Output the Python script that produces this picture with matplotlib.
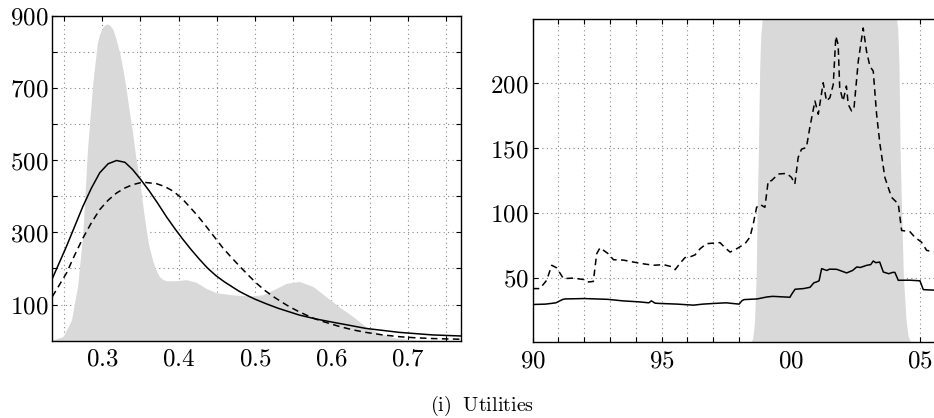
import numpy as np
import matplotlib
matplotlib.use("Agg")
import matplotlib.pyplot as plt

plt.rcParams['mathtext.fontset'] = 'cm'
plt.rcParams['font.family'] = ['DejaVu Serif']

# ---------------- Left panel data (density of a parameter) ----------------
kde_x = [0.235, 0.249, 0.260, 0.268, 0.275, 0.281, 0.288, 0.294, 0.297, 0.301,
         0.304, 0.307, 0.310, 0.314, 0.318, 0.323, 0.327, 0.331, 0.335, 0.340,
         0.344, 0.349, 0.353, 0.357, 0.361, 0.366, 0.370, 0.375, 0.379, 0.384,
         0.397, 0.410, 0.423, 0.436, 0.449, 0.471, 0.493, 0.510, 0.524, 0.541,
         0.558, 0.576, 0.593, 0.610, 0.628, 0.645, 0.663, 0.680, 0.706, 0.770]
kde_y = [2, 11, 57, 150, 298, 530, 715, 826, 850, 868,
         875, 877, 874, 863, 838, 798, 755, 705, 645, 576,
         510, 446, 380, 317, 265, 224, 198, 178, 170, 166,
         166, 169, 162, 145, 133, 127, 124, 127, 141, 159,
         164, 150, 122, 94, 67, 39, 20, 9, 2, 0]

solid_x = [0.235, 0.2535, 0.275, 0.286, 0.297, 0.308, 0.319, 0.330, 0.340, 0.350,
           0.362, 0.373, 0.384, 0.395, 0.406, 0.417, 0.428, 0.438, 0.449, 0.460,
           0.471, 0.480, 0.493, 0.500, 0.515, 0.530, 0.558, 0.580, 0.602, 0.620,
           0.645, 0.689, 0.732, 0.770]
solid_y = [172, 261, 372, 422, 465, 490, 499, 494, 474, 448,
           414, 380, 344, 311, 280, 251, 224, 201, 180, 163,
           148, 136, 122, 115, 102, 90, 71, 60, 51, 44,
           34, 23, 16, 13]

dash_x = [0.235, 0.2535, 0.264, 0.275, 0.286, 0.297, 0.308, 0.319, 0.330, 0.340,
          0.353, 0.371, 0.382, 0.393, 0.404, 0.414, 0.425, 0.436, 0.447, 0.458,
          0.469, 0.480, 0.491, 0.502, 0.513, 0.524, 0.535, 0.545, 0.556, 0.567,
          0.578, 0.589, 0.600, 0.611, 0.628, 0.645, 0.667, 0.689, 0.710, 0.732,
          0.750, 0.770]
dash_y = [122, 187, 236, 284, 326, 363, 389, 409, 423, 432,
          439, 435, 427, 414, 395, 372, 346, 317, 287, 257,
          231, 206, 182, 159, 139, 122, 107, 94, 82, 71,
          61, 53, 46, 39, 30, 23, 16, 11, 8, 6,
          5, 4]

left_xticks = [0.3, 0.4, 0.5, 0.6, 0.7]
left_yticks = [100, 300, 500, 700, 900]

# ---------------- Right panel data (time series) ----------------
ts_solid_years = [1990.0, 1990.5, 1990.9, 1991.15, 1991.25, 1992.0, 1992.9, 1993.5,
                  1994.15, 1994.5, 1994.6, 1994.75, 1994.95, 1995.6, 1996.23, 1996.6,
                  1997.0, 1997.5, 1998.0, 1998.12, 1998.2, 1998.7, 1999.07, 1999.3,
                  1999.97, 2000.04, 2000.17, 2000.5, 2000.75, 2000.9, 2001.0, 2001.1,
                  2001.2, 2001.4, 2001.5, 2001.78, 2002.17, 2002.4, 2002.56, 2002.7,
                  2002.95, 2003.1, 2003.2, 2003.3, 2003.45, 2003.59, 2003.8, 2003.95,
                  2004.04, 2004.17, 2004.6, 2005.01, 2005.14, 2005.55]
ts_solid_vals = [29.2, 29.5, 30.5, 33.0, 33.5, 33.8, 33.2, 32.0,
                 31.2, 30.5, 32.0, 30.2, 30.0, 29.5, 28.7, 29.5,
                 30.0, 30.5, 29.5, 32.3, 33.0, 33.5, 35.0, 35.5,
                 34.8, 37.2, 41.0, 41.5, 42.5, 46.0, 46.6, 47.5,
                 56.9, 55.5, 56.5, 56.4, 53.6, 55.5, 58.2, 57.8,
                 59.5, 60.0, 62.8, 61.5, 62.0, 54.3, 53.0, 54.0,
                 54.0, 47.9, 48.0, 47.5, 40.7, 40.3]

ts_dash_years = [1990.0, 1990.28, 1990.54, 1990.74, 1990.93, 1991.19, 1991.58, 1991.97,
                 1992.16, 1992.35, 1992.48, 1992.61, 1992.93, 1993.13, 1993.52, 1993.9,
                 1994.23, 1994.68, 1995.07, 1995.33, 1995.52, 1995.71, 1995.9, 1996.1,
                 1996.29, 1996.49, 1996.74, 1997.26, 1997.46, 1997.65, 1997.91, 1998.23,
                 1998.42, 1998.55, 1998.68, 1998.81, 1999.0, 1999.13, 1999.25, 1999.52,
                 1999.84, 2000.03, 2000.16, 2000.29, 2000.42, 2000.61, 2000.74, 2000.94,
                 2001.07, 2001.26, 2001.39, 2001.52, 2001.65, 2001.75, 2001.84, 2001.9,
                 2002.03, 2002.16, 2002.23, 2002.36, 2002.45, 2002.62, 2002.81, 2002.94,
                 2003.07, 2003.2, 2003.33, 2003.46, 2003.65, 2003.91, 2004.17, 2004.3,
                 2004.62, 2004.81, 2005.07, 2005.27, 2005.4, 2005.55]
ts_dash_vals = [41.5, 41.5, 47.9, 59.5, 57.5, 49.2, 49.6, 48.5,
                46.6, 47.0, 68.4, 73.0, 68.4, 63.8, 63.5, 62.0,
                60.8, 59.5, 60.0, 58.7, 56.1, 61.0, 65.4, 66.0,
                67.5, 72.3, 76.2, 77.0, 73.0, 69.7, 72.3, 76.2,
                81.2, 91.5, 104.3, 106.5, 104.3, 124.8, 124.8, 130.0,
                130.5, 127.4, 122.3, 142.8, 149.2, 150.5, 165.8, 186.4,
                176.2, 200.5, 186.4, 189.0, 199.2, 236.4, 230.0, 196.6,
                186.4, 198.0, 183.8, 178.7, 180.0, 217.2, 242.8, 224.8,
                213.3, 209.5, 176.2, 153.0, 127.4, 112.0, 106.9, 86.4,
                85.5, 81.2, 77.4, 71.0, 70.5, 70.0]

regime_years = [1990.0, 1998.45, 1998.52, 1998.57, 1998.60, 1998.66, 1998.70, 1998.75,
                1998.80, 1998.84, 1998.90, 2004.10, 2004.15, 2004.20, 2004.24, 2004.30,
                2004.37, 2004.47, 2004.55, 2004.65, 2005.55]
regime_prob = [0.0, 0.0, 0.01, 0.04, 0.07, 0.20, 0.40, 0.60,
               0.85, 0.95, 1.0, 1.0, 0.97, 0.85, 0.60, 0.40,
               0.20, 0.07, 0.02, 0.0, 0.0]

right_xticks = [1990, 1995, 2000, 2005]
right_xlabels = ['90', '95', '00', '05']
right_yticks = [50, 100, 150, 200]

# ---------------- Figure ----------------
W, H = 934, 418
fig = plt.figure(figsize=(W / 100, H / 100), dpi=100)

grey = '#d9d9d9'
fs = 18
lw = 1.1
dash_style = (0, (4.3, 2.9))


def style_axes(ax):
    ax.set_axisbelow(True)
    for sp in ax.spines.values():
        sp.set_linewidth(1.0)
    ax.tick_params(which='both', direction='in', top=True, right=True,
                   length=3.5, width=0.8, labelsize=fs)
    ax.tick_params(axis='x', pad=5)
    ax.tick_params(axis='y', pad=3)
    ax.grid(True, which='both', linestyle=(0, (1, 3)), color='#888888', linewidth=0.8)


# Left panel
ax1 = fig.add_axes([52.3 / W, 1 - 340.7 / H, (461.5 - 52.3) / W, (340.7 - 15.7) / H])
ax1.fill_between(kde_x, 0, kde_y, color=grey, linewidth=0, zorder=1)
ax1.plot(solid_x, solid_y, color='black', lw=lw, zorder=3)
ax1.plot(dash_x, dash_y, color='black', lw=lw, linestyle=dash_style, zorder=3)
ax1.set_xlim(0.235, 0.77)
ax1.set_ylim(0, 900)
xt = np.arange(0.25, 0.771, 0.05)
ax1.set_xticks(xt)
ax1.set_xticklabels(['$%.1f$' % t if any(abs(t - v) < 1e-9 for v in left_xticks) else ''
                     for t in xt])
ax1.set_yticks(np.arange(100, 901, 100))
ax1.set_yticklabels(['$%d$' % t if t in left_yticks else '' for t in range(100, 901, 100)])
style_axes(ax1)

# Right panel
ax2 = fig.add_axes([532.7 / W, 1 - 342.3 / H, (934 - 532.7) / W, (342.3 - 18.7) / H])
ax2.fill_between(regime_years, 0, regime_prob, color=grey, linewidth=0,
                 transform=ax2.get_xaxis_transform(), zorder=1)
ax2.plot(ts_solid_years, ts_solid_vals, color='black', lw=lw, zorder=3)
ax2.plot(ts_dash_years, ts_dash_vals, color='black', lw=lw, linestyle=dash_style, zorder=3)
ax2.set_xlim(1990, 2005.555)
ax2.set_ylim(0, 250)
yrs = list(range(1990, 2006))
ax2.set_xticks(yrs)
ax2.set_xticklabels(['$%s$' % right_xlabels[right_xticks.index(y)] if y in right_xticks else ''
                     for y in yrs])
ax2.set_yticks(right_yticks)
ax2.set_yticklabels(['$%d$' % t for t in right_yticks])
style_axes(ax2)
ax2.spines['right'].set_visible(False)
ax2.tick_params(right=False)

fig.text(482 / W, 1 - 406 / H, r'$\mathrm{(i)\ \ Utilities}$', ha='center', va='center', fontsize=14.5)

fig.savefig('out.png', dpi=100)
